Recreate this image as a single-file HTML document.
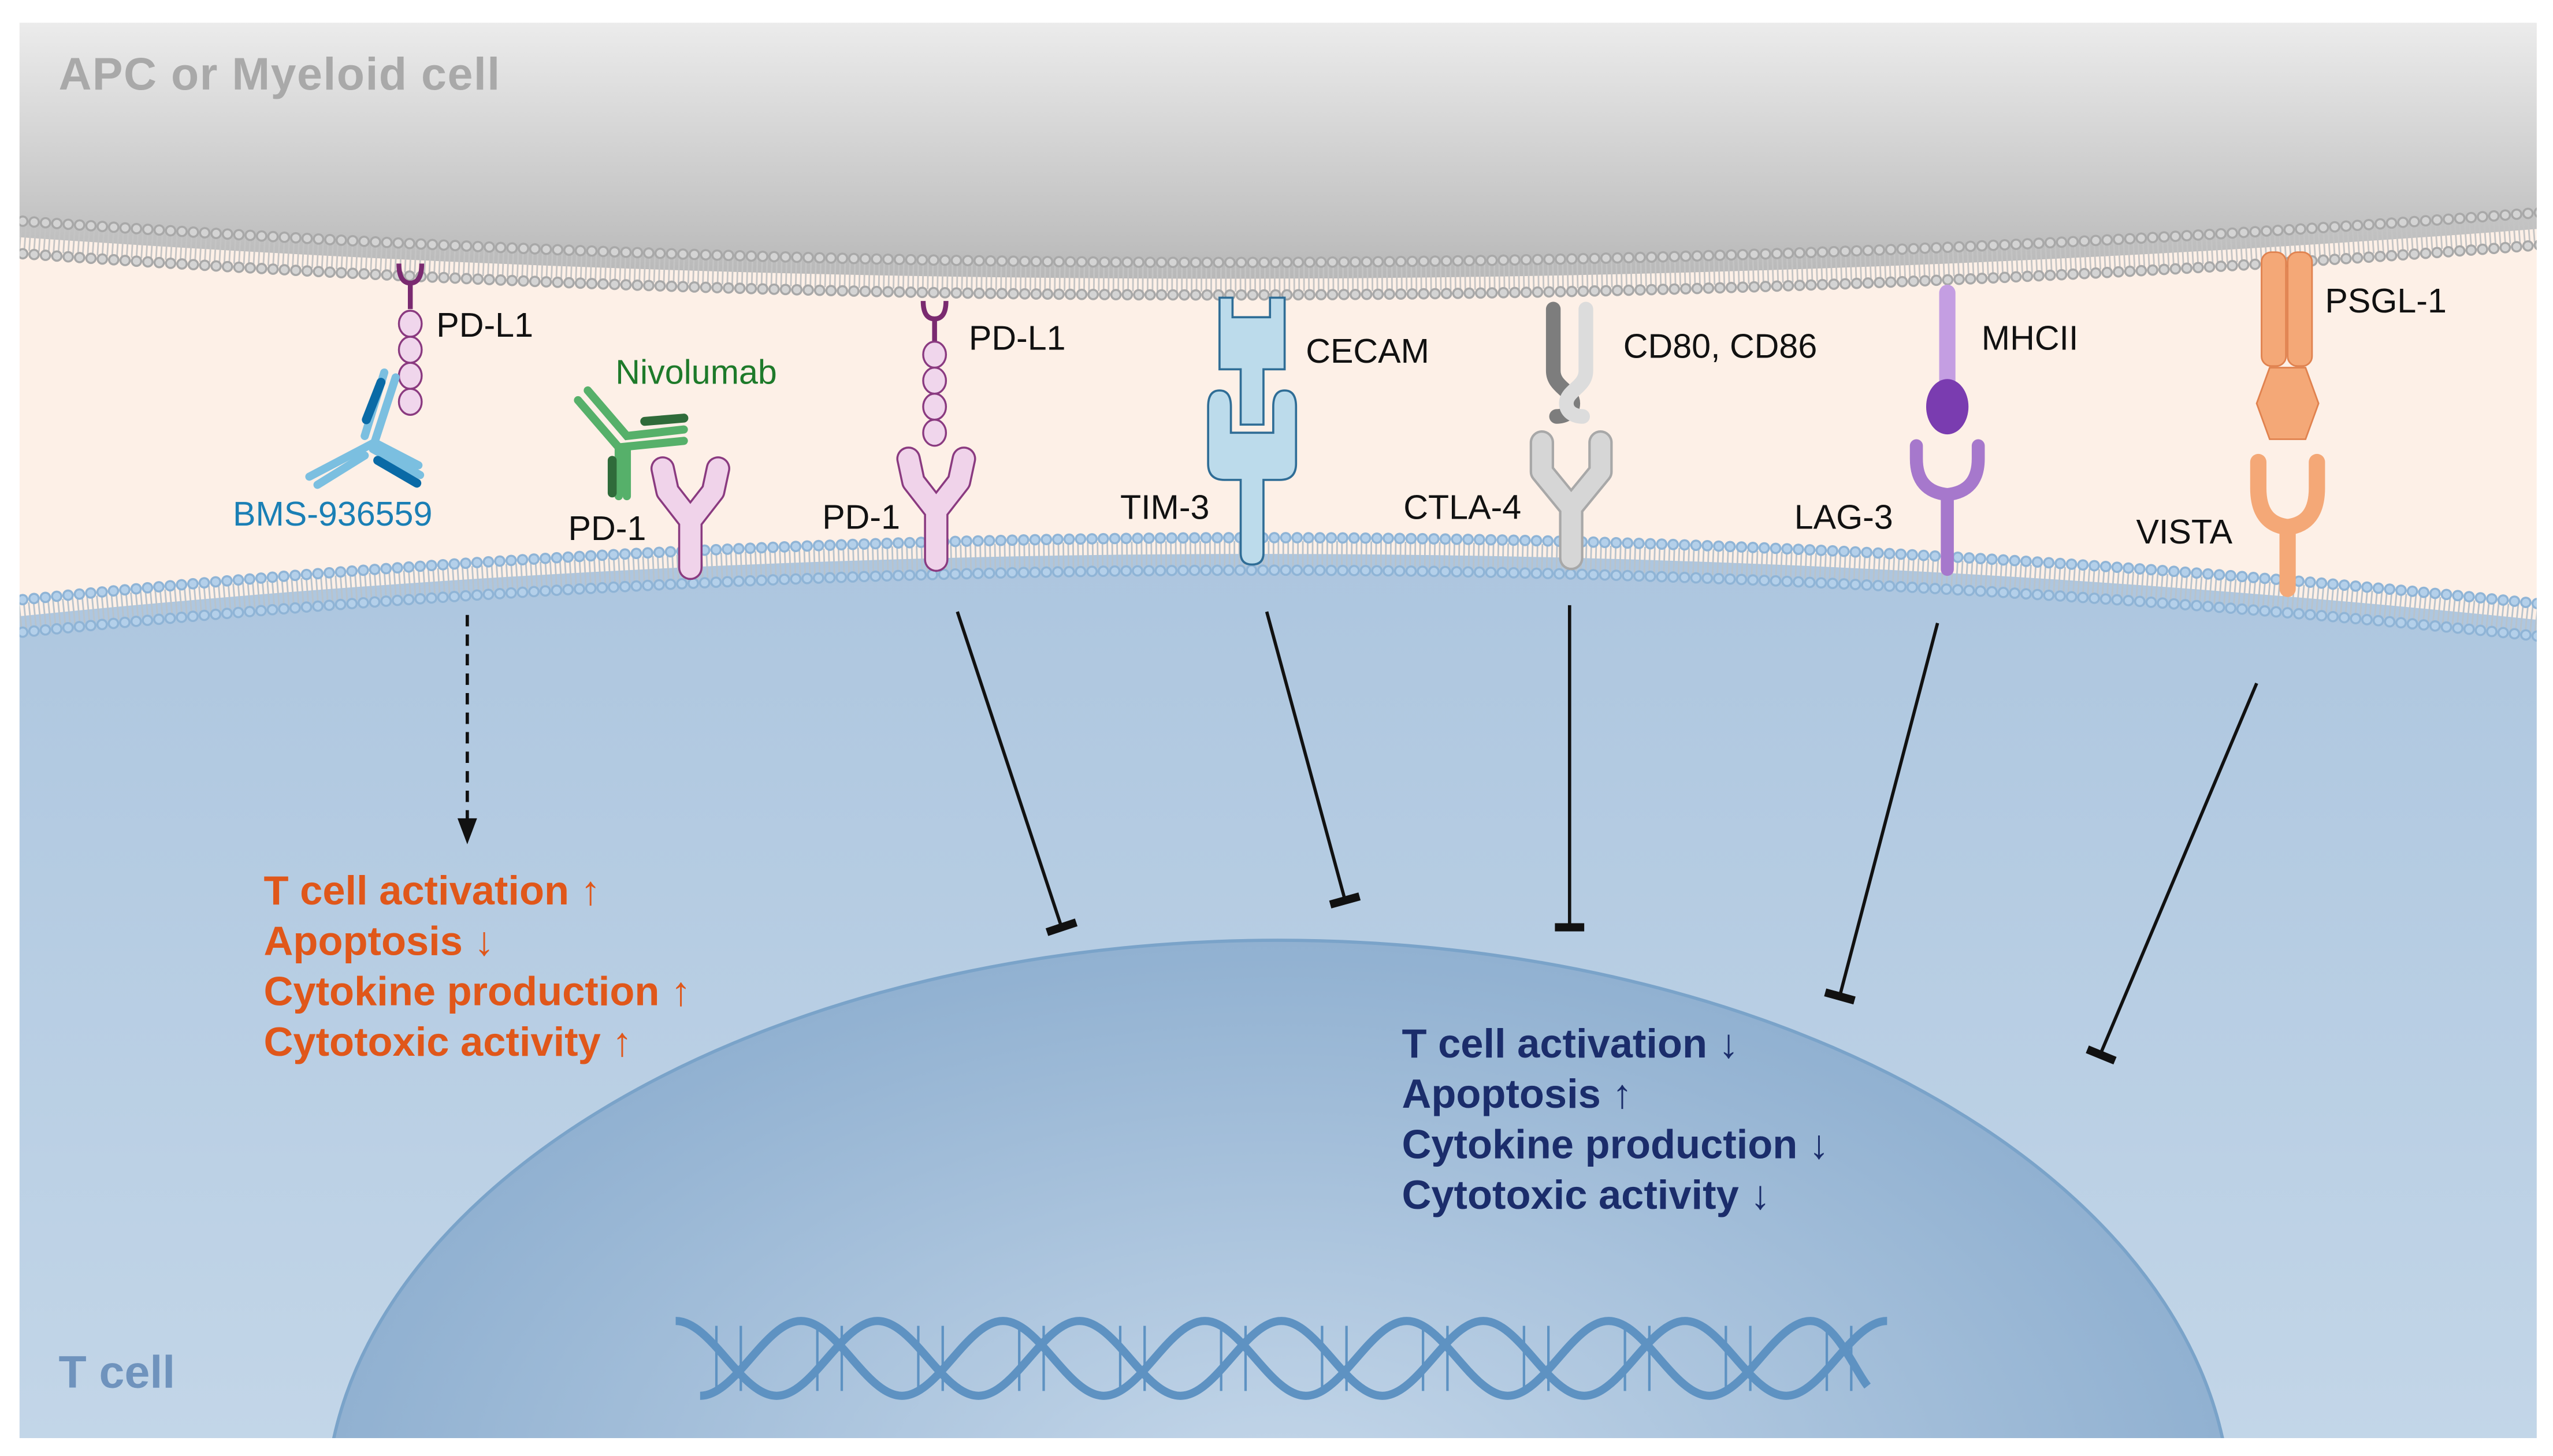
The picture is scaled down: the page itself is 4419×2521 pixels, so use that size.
<!DOCTYPE html>
<html><head><meta charset="utf-8"><style>
html,body{margin:0;padding:0;background:#fff;overflow:hidden;width:4419px;height:2521px;}
svg{display:block;}
text{font-family:"Liberation Sans",Arial,sans-serif;}
</style></head><body>
<svg width="4419" height="2521" viewBox="0 0 1568 895" preserveAspectRatio="none" xmlns="http://www.w3.org/2000/svg">
<defs>
<linearGradient id="gtop" x1="0" y1="0" x2="0" y2="1">
<stop offset="0" stop-color="#f0f0f0"/><stop offset="1" stop-color="#b8b8b8"/></linearGradient>
<linearGradient id="gblue" x1="0" y1="0" x2="0" y2="1">
<stop offset="0" stop-color="#adc6df"/><stop offset="1" stop-color="#c3d6e8"/></linearGradient>
<radialGradient id="gnuc" cx="0.5" cy="0.5" r="0.6">
<stop offset="0" stop-color="#c6d8ea"/><stop offset="1" stop-color="#86a9cc"/></radialGradient>
<clipPath id="frame"><rect x="12" y="14" width="1546" height="870"/></clipPath>
</defs>
<g clip-path="url(#frame)">
<rect x="12" y="14" width="1546" height="870" fill="#fdf0e7"/>
<path d="M0,0 L1568,0 L1568,140 Q785,200 0,145 Z" fill="url(#gtop)"/>
<path d="M0,380 Q785,300 1568,382 L1568,895 L0,895 Z" fill="url(#gblue)"/>
<ellipse cx="785" cy="930" rx="585" ry="352" fill="url(#gnuc)" stroke="#7aa3c9" stroke-width="2"/>
<!-- top membrane -->
<path d="M0,145 Q785,200 1568,140" fill="none" stroke="#c4c4c4" stroke-width="16" stroke-dasharray="1 2"/>
<path d="M0,135 Q785,190 1568,130" fill="none" stroke="#a8a8a8" stroke-width="7" stroke-dasharray="0 7" stroke-linecap="round"/>
<path d="M0,135 Q785,190 1568,130" fill="none" stroke="#d4d4d4" stroke-width="4.5" stroke-dasharray="0 7" stroke-linecap="round"/>
<path d="M0,155 Q785,210 1568,150" fill="none" stroke="#a8a8a8" stroke-width="7" stroke-dasharray="0 7" stroke-linecap="round"/>
<path d="M0,155 Q785,210 1568,150" fill="none" stroke="#d4d4d4" stroke-width="4.5" stroke-dasharray="0 7" stroke-linecap="round"/>
<!-- bottom membrane -->
<path d="M0,380 Q785,300 1568,382" fill="none" stroke="#b8c3cc" stroke-width="16" stroke-dasharray="1 2"/>
<path d="M0,370 Q785,290 1568,372" fill="none" stroke="#8fb4d6" stroke-width="7" stroke-dasharray="0 7" stroke-linecap="round"/>
<path d="M0,370 Q785,290 1568,372" fill="none" stroke="#b4d0ea" stroke-width="4.5" stroke-dasharray="0 7" stroke-linecap="round"/>
<path d="M0,390 Q785,310 1568,392" fill="none" stroke="#8fb4d6" stroke-width="7" stroke-dasharray="0 7" stroke-linecap="round"/>
<path d="M0,390 Q785,310 1568,392" fill="none" stroke="#b4d0ea" stroke-width="4.5" stroke-dasharray="0 7" stroke-linecap="round"/>
<!-- DNA -->
<g fill="none" stroke="#5e92c2" stroke-width="5">
<path d="M415,812 c22,0 40,46 62,46 c22,0 40,-46 62,-46 c22,0 40,46 62,46 c22,0 40,-46 62,-46 c22,0 40,46 62,46 c22,0 40,-46 62,-46 c22,0 40,46 62,46 c22,0 40,-46 62,-46 c22,0 40,46 62,46 c22,0 40,-46 62,-46 c22,0 40,46 62,46 c22,0 40,-46 62,-46"/>
<path d="M430,858 c22,0 40,-46 62,-46 c22,0 40,46 62,46 c22,0 40,-46 62,-46 c22,0 40,46 62,46 c22,0 40,-46 62,-46 c22,0 40,46 62,46 c22,0 40,-46 62,-46 c22,0 40,46 62,46 c22,0 40,-46 62,-46 c22,0 40,46 62,46 c22,0 40,-46 62,-46 c15,0 27,30 35,40"/>
</g>
<g stroke="#5e92c2" stroke-width="1.5">
<path d="M440,815 V855 M455,815 V855 M502,815 V855 M517,815 V855 M564,815 V855 M579,815 V855 M626,815 V855 M641,815 V855 M688,815 V855 M703,815 V855 M750,815 V855 M765,815 V855 M812,815 V855 M827,815 V855 M874,815 V855 M889,815 V855 M936,815 V855 M951,815 V855 M998,815 V855 M1013,815 V855 M1060,815 V855 M1075,815 V855 M1122,815 V855 M1137,815 V855"/>
</g>
</g>

<!-- labels cell -->
<text x="36" y="55" font-size="28" font-weight="bold" fill="#a9a9a9" textLength="271">APC or Myeloid cell</text>
<text x="36" y="853" font-size="28" font-weight="bold" fill="#6f93bd">T cell</text>

<!-- PD-L1 left -->
<path d="M245,162 Q245,174 252,174 Q259,174 259,162 M252,174 V190" fill="none" stroke="#7a2a70" stroke-width="3"/>
<g fill="#f0d6ec" stroke="#8a3a80" stroke-width="1.2">
<ellipse cx="252" cy="199" rx="7" ry="8"/><ellipse cx="252" cy="215" rx="7" ry="8"/><ellipse cx="252" cy="231" rx="7" ry="8"/><ellipse cx="252" cy="247" rx="7" ry="8"/></g>
<text x="268" y="207" font-size="21" fill="#111">PD-L1</text>
<!-- BMS antibody -->
<g fill="none" stroke-linecap="round" stroke-width="5">
<path d="M243,232 L230,272 L190,293 M236,229 L224,268 M230,272 L257,286" stroke="#7bbfe0"/>
<path d="M224,280 L195,298 M229,276 L258,292" stroke="#7bbfe0"/>
<path d="M234,235 L225,258 M232,283 L256,297" stroke="#0a6aa6" stroke-width="5.5"/>
</g>
<text x="143" y="323" font-size="21" fill="#1a7fb5">BMS-936559</text>
<!-- Nivolumab -->
<g fill="none" stroke-linecap="round" stroke-width="5">
<path d="M355,246 L380,275 L420,271 M361,240 L385,268 L420,264 M380,275 V305 M385,275 V305" stroke="#56b06a"/>
<path d="M396,259 L420,257 M376,283 V303" stroke="#2f6b3a" stroke-width="5.5"/>
</g>
<text x="378" y="236" font-size="21" fill="#1e7a2a">Nivolumab</text>
<!-- PD-1 left -->
<g fill="none" stroke-linecap="round" stroke-linejoin="round">
<path d="M407,288 L410,302 L424,320 L438,302 L441,288 M424,320 L424,349" stroke="#8a3a80" stroke-width="15"/>
<path d="M407,288 L410,302 L424,320 L438,302 L441,288 M424,320 L424,349" stroke="#f0d3ea" stroke-width="12.5"/>
</g>
<text x="349" y="332" font-size="21" fill="#111">PD-1</text>
<!-- PD-L1 middle -->
<path d="M567,185 Q567,196 574,196 Q581,196 581,185 M574,196 V210" fill="none" stroke="#7a2a70" stroke-width="3"/>
<g fill="#f0d6ec" stroke="#8a3a80" stroke-width="1.2">
<ellipse cx="574" cy="218" rx="7" ry="8"/><ellipse cx="574" cy="234" rx="7" ry="8"/><ellipse cx="574" cy="250" rx="7" ry="8"/><ellipse cx="574" cy="266" rx="7" ry="8"/></g>
<text x="595" y="215" font-size="21" fill="#111">PD-L1</text>
<g fill="none" stroke-linecap="round" stroke-linejoin="round">
<path d="M558,282 L561,296 L575,314 L589,296 L592,282 M575,314 L575,344" stroke="#8a3a80" stroke-width="15"/>
<path d="M558,282 L561,296 L575,314 L589,296 L592,282 M575,314 L575,344" stroke="#f0d3ea" stroke-width="12.5"/>
</g>
<text x="505" y="325" font-size="21" fill="#111">PD-1</text>
<!-- CECAM / TIM-3 -->
<path d="M749,183 H757 V195 H780 V183 H789 V227 H776 V261 H762 V227 H749 Z" fill="#bcdbeb" stroke="#2f6d96" stroke-width="1.3"/>
<path d="M742,250 Q742,240 749,240 Q756,240 756,250 V266 H782 V250 Q782,240 789,240 Q796,240 796,250 V285 Q796,295 786,295 H776 V340 Q776,347 769,347 Q762,347 762,340 V295 H752 Q742,295 742,285 Z" fill="#bcdbeb" stroke="#2f6d96" stroke-width="1.3"/>
<text x="802" y="223" font-size="21" fill="#111">CECAM</text>
<text x="688" y="319" font-size="21" fill="#111">TIM-3</text>
<!-- CD80 / CTLA-4 -->
<g fill="none" stroke-linecap="round">
<path d="M954,190 V228 C954,238 966,240 966,248 C966,254 960,256 956,256" stroke="#7d7d7d" stroke-width="9"/>
<path d="M974,190 V228 C974,238 962,240 962,248 C962,254 968,256 972,256" stroke="#dcdcdc" stroke-width="9"/>
</g>
<g fill="none" stroke-linecap="round" stroke-linejoin="round">
<path d="M947,272 V290 L965,312 L983,290 V272 M965,312 V343" stroke="#a8a8a8" stroke-width="15"/>
<path d="M947,272 V290 L965,312 L983,290 V272 M965,312 V343" stroke="#d6d6d6" stroke-width="12"/>
</g>
<text x="997" y="220" font-size="21" fill="#111">CD80, CD86</text>
<text x="862" y="319" font-size="21" fill="#111">CTLA-4</text>
<!-- MHCII / LAG-3 -->
<path d="M1196,180 V236" stroke="#c49ee2" stroke-width="10" stroke-linecap="round"/>
<ellipse cx="1196" cy="250" rx="13" ry="17" fill="#7a3cb0"/>
<path d="M1177,274 V282 Q1177,302 1196,304 Q1215,302 1215,282 V274 M1196,304 V350" fill="none" stroke="#a678cc" stroke-width="8" stroke-linecap="round"/>
<text x="1217" y="215" font-size="21" fill="#111">MHCII</text>
<text x="1102" y="325" font-size="21" fill="#111">LAG-3</text>
<!-- PSGL-1 / VISTA -->
<rect x="1389" y="155" width="15" height="70" rx="6" fill="#f4a877" stroke="#e0824f" stroke-width="1"/>
<rect x="1405" y="155" width="15" height="70" rx="6" fill="#f4a877" stroke="#e0824f" stroke-width="1"/>
<polygon points="1394,226 1416,226 1424,248 1416,270 1394,270 1386,248" fill="#f4a877" stroke="#e0824f" stroke-width="1"/>
<path d="M1387,284 V300 Q1387,322 1405,324 Q1423,322 1423,300 V284 M1405,324 V362" fill="none" stroke="#f4a877" stroke-width="10" stroke-linecap="round"/>
<text x="1428" y="192" font-size="21" fill="#111">PSGL-1</text>
<text x="1312" y="334" font-size="21" fill="#111">VISTA</text>

<!-- arrows -->
<path d="M287,378 V505" stroke="#111" stroke-width="2" stroke-dasharray="7 5"/>
<polygon points="281,503 293,503 287,519" fill="#111"/>
<g stroke="#111" stroke-width="2">
<line x1="588" y1="376" x2="652" y2="570"/>
<line x1="778" y1="376" x2="826" y2="553"/>
<line x1="964" y1="372" x2="964" y2="570"/>
<line x1="1190" y1="383" x2="1130" y2="612"/>
<line x1="1386" y1="420" x2="1290" y2="648"/>
</g>
<g stroke="#111" stroke-width="5">
<line x1="643" y1="573" x2="661" y2="567"/>
<line x1="817" y1="556" x2="835" y2="551"/>
<line x1="955" y1="570" x2="973" y2="570"/>
<line x1="1121" y1="610" x2="1139" y2="615"/>
<line x1="1282" y1="645" x2="1299" y2="652"/>
</g>

<g font-size="25" font-weight="bold" fill="#e0571a">
<text x="162" y="556">T cell activation ↑</text>
<text x="162" y="587">Apoptosis ↓</text>
<text x="162" y="618">Cytokine production ↑</text>
<text x="162" y="649">Cytotoxic activity ↑</text>
</g>
<g font-size="25" font-weight="bold" fill="#1b2d6b">
<text x="861" y="650">T cell activation ↓</text>
<text x="861" y="681">Apoptosis ↑</text>
<text x="861" y="712">Cytokine production ↓</text>
<text x="861" y="743">Cytotoxic activity ↓</text>
</g>
</svg>
</body></html>
